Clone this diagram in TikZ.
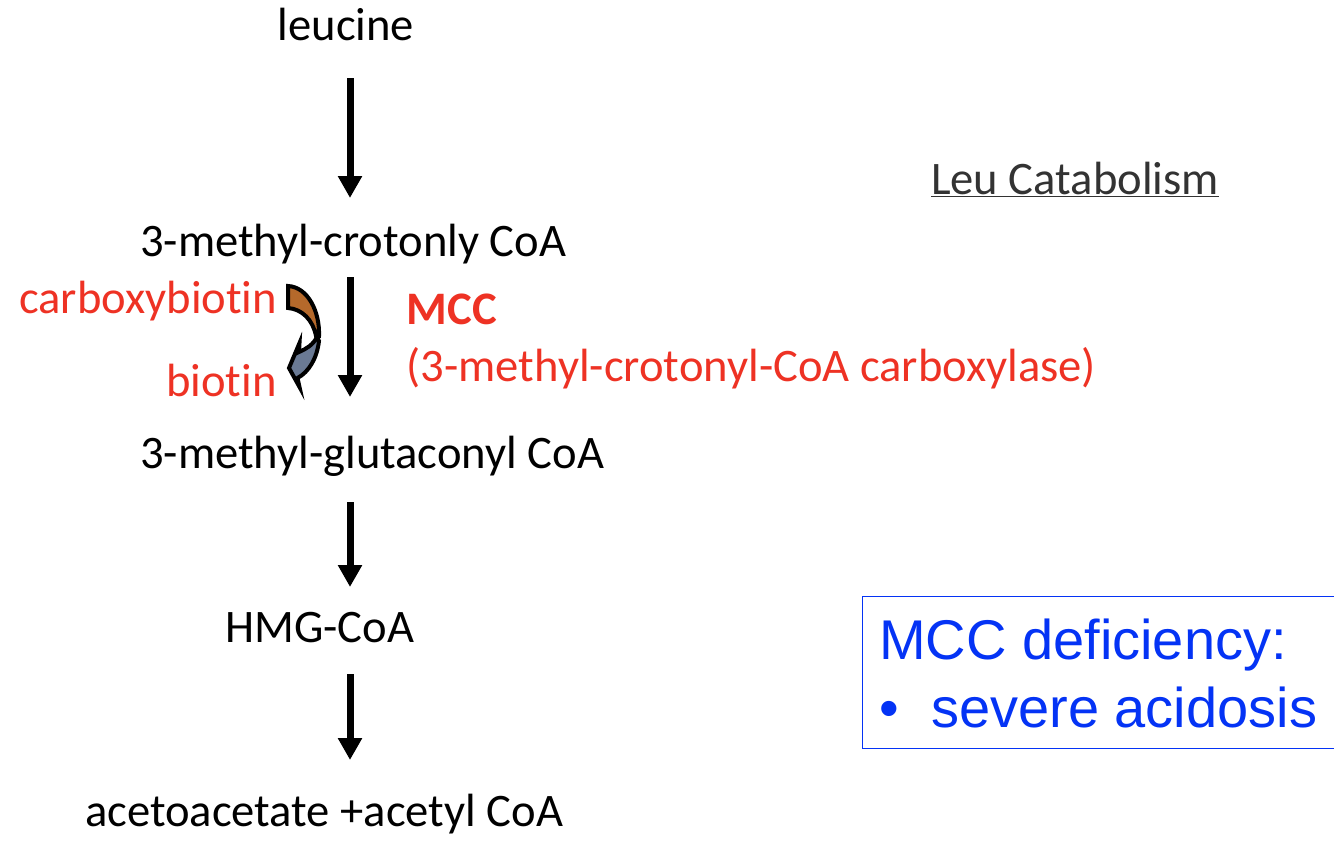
\documentclass[tikz,border=0pt]{standalone}
\usepackage{fontspec}
\setmainfont[Ligatures=CommonOff]{Carlito}
\newfontfamily\boxfont{Liberation Sans}
\usetikzlibrary{arrows.meta}
\definecolor{redtxt}{HTML}{EE3224}
\definecolor{bluetxt}{HTML}{0433F5}
\definecolor{browncurve}{HTML}{B5692B}
\definecolor{graycurve}{HTML}{6A7A94}
\definecolor{headtxt}{HTML}{333333}
\tikzset{
  x=1pt,y=-1pt,
  lbl/.style={inner sep=0pt,anchor=base west,font=\fontsize{46.6}{54}\selectfont,text=black},
  redlbl/.style={lbl,text=redtxt},
  bluelbl/.style={inner sep=0pt,anchor=base west,font=\boxfont\fontsize{56}{66}\selectfont,text=bluetxt},
  flow/.style={-{Triangle[length=22pt,width=23pt]},line width=7pt,black},
  curvepart/.style={draw=black,line width=4pt,line join=miter,miter limit=10}
}
\begin{document}
\begin{tikzpicture}
\useasboundingbox (0,0) rectangle (1334,841);
\fill[white] (0,0) rectangle (1334,841);
\node[lbl] (leu) at (277.5,40) {leucine};
\node[lbl] (croto) at (140,256) {3-methyl-crotonly CoA};
\node[lbl] (gluta) at (140,468) {3-methyl-glutaconyl CoA};
\node[lbl] (hmg) at (225,642) {HMG-CoA};
\node[lbl] (aceto) at (85,826) {acetoacetate +acetyl CoA};
\node[redlbl] (cb) at (19,313) {carboxybiotin};
\node[redlbl] (bio) at (166,396) {biotin};
\node[redlbl,font=\fontsize{46.6}{54}\selectfont\bfseries] (mcc) at (406.5,324) {MCC};
\node[redlbl] (mccname) at (406.5,381) {(3-methyl-crotonyl-CoA carboxylase)};
\node[lbl,text=headtxt] (title) at (931,194) {\underline{Leu Catabolism}};
\coordinate (a1s) at (350,78); \coordinate (a1e) at (350,198);
\coordinate (a2s) at (350,277); \coordinate (a2e) at (350,397);
\coordinate (a3s) at (350,502); \coordinate (a3e) at (350,587);
\coordinate (a4s) at (350,674); \coordinate (a4e) at (350,760);
\draw[flow] (a1s) -- (a1e);
\draw[flow] (a2s) -- (a2e);
\draw[flow] (a3s) -- (a3e);
\draw[flow] (a4s) -- (a4e);
\draw[curvepart,fill=graycurve] (299.5,343) -- (299,352) .. controls (306,349) and (313,345) .. (317,337) -- (319,341) .. controls (317,358) and (309,372) .. (297.5,378) -- (299.5,387) -- (289,368) -- cycle;
\draw[curvepart,fill=browncurve] (288,286) -- (288,308) .. controls (302,309) and (313,320) .. (316,336) -- (319,336) .. controls (320,312) and (308,287) .. (288,286) -- cycle;
\draw[draw=bluetxt,line width=1.6pt] (1340,596.5) -- (862.5,596.5) -- (862.5,748.5) -- (1340,748.5);
\node[bluelbl] (def) at (879,659) {MCC deficiency:};
\node[bluelbl] (bul) at (879,727) {•};
\node[bluelbl] (sev) at (931,727) {severe acidosis};
\end{tikzpicture}
\end{document}
